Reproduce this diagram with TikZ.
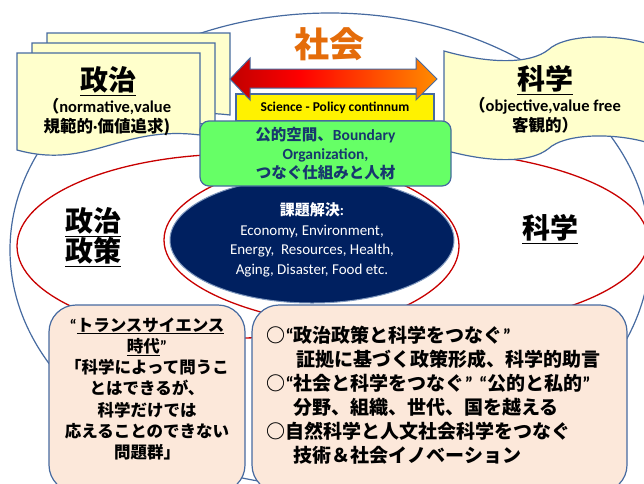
\documentclass[tikz,border=0pt]{standalone}
\usepackage{fontspec}
\setmainfont{Carlito}
\newfontfamily\jp{Noto Sans CJK JP}
\usetikzlibrary{positioning,shapes.geometric}
\definecolor{lineblue}{RGB}{70,106,160}
\definecolor{venred}{RGB}{200,0,0}
\definecolor{docyellow}{RGB}{255,255,204}
\definecolor{peach}{RGB}{252,232,218}
\definecolor{boxgreen}{RGB}{102,255,102}
\definecolor{navy}{RGB}{0,32,96}
\definecolor{textnavy}{RGB}{23,55,110}
\definecolor{orangetxt}{RGB}{228,108,10}
\definecolor{arrowdark}{RGB}{100,0,0}
\pgfdeclarehorizontalshading{arrowgrad}{100bp}{color(0bp)=(arrowdark); color(42bp)=(red); color(72bp)=(orange); color(100bp)=(yellow)}
\newcommand\qo{{\rmfamily “}}
\newcommand\qc{{\rmfamily ”}}

\begin{document}
\begin{tikzpicture}[x=1pt,y=-1pt,
  outline/.style={draw=lineblue,line width=1.2pt},
  venn/.style={draw=venred,line width=1.3pt},
  docpage/.style={outline,fill=docyellow},
  infobox/.style={outline,fill=peach,rounded corners=27pt,minimum width=#1,minimum height=187pt},
  jpbig/.style={font=\jp\bfseries\fontsize{28}{30}\selectfont,align=center}]
\useasboundingbox (0,0) rectangle (644,483);
\clip (0,0) rectangle (644,483);

\draw[outline] (330,250) ellipse [x radius=320, y radius=237];
\draw[venn] (238,246) ellipse [x radius=221, y radius=92];
\draw[venn] (406,240) ellipse [x radius=242, y radius=90];

\foreach \dx/\dy in {30/-20,15/-10,0/0}
  \draw[docpage,shift={(\dx,\dy)}] (17,53) -- (200,53) -- (200,135) .. controls (120,125) and (90,170) .. (17,150) -- cycle;
\draw[docpage] (444,51) .. controls (490,64) and (530,64) .. (548,50) .. controls (566,33) and (620,34) .. (652,45)
  -- (652,144) .. controls (620,133) and (566,132) .. (548,149) .. controls (530,163) and (490,163) .. (444,150) -- cycle;

\node[outline,fill=yellow,minimum width=198pt,minimum height=27pt,inner sep=0,font=\bfseries\fontsize{13.5}{15}\selectfont] (continuum) at (335,107.5) {Science - Policy continnum};
\shadedraw[shading=arrowgrad,draw=lineblue,line width=1pt] (230,79) -- (250,58) -- (250,69) -- (416,69) -- (416,58) -- (437,79) -- (416,100) -- (416,88) -- (250,88) -- (250,100) -- cycle;
\node[text=orangetxt,font=\jp\bfseries\fontsize{35}{38}\selectfont] (society) at (329,44) {社会};

\node[ellipse,fill=navy,draw=lineblue!70,line width=1pt,minimum width=284pt,minimum height=126pt,inner sep=0,text=white,align=center,font=\fontsize{15}{19.5}\selectfont] (issues) at (312,240)
  {{\jp\bfseries 課題解決}\textbf{:}\\Economy, Environment,\\Energy,~~Resources, Health,\\Aging, Disaster, Food etc.};
\node[outline,fill=boxgreen,rounded corners=9pt,minimum width=251pt,minimum height=65pt] (bridge) at (325.5,153.5) {};
\node[text=textnavy,align=center,font=\bfseries\fontsize{15.5}{19}\selectfont] (bridgetext) at (bridge) {{\jp 公的空間、}Boundary\\Organization,\\{\jp つなぐ仕組みと人材}};

\node[jpbig] (politics) at (108,81) {\underline{政治}};
\node[align=center,font=\bfseries\fontsize{16.5}{20}\selectfont] (normative) at (107,117) {{\jp （}normative,value\\{\jp 規範的}{\rmfamily ·}{\jp 価値追求)}};
\node[jpbig] (science) at (545,80) {\underline{科学}};
\node[align=center,font=\bfseries\fontsize{16.5}{20}\selectfont] (objective) at (545,115) {{\jp （}objective,value free\\{\jp 客観的）}};

\node[jpbig] (policy) at (93,237) {\underline{政治}\\\underline{政策}};
\node[jpbig] (sciencevenn) at (550,229) {\underline{科学}};

\node[infobox=196pt] (transbox) at (147,398.5) {};
\node[align=center,font=\jp\bfseries\fontsize{16.5}{21.3}\selectfont] (transtext) at (147,389)
  {\qo\underline{トランスサイエンス}\\\underline{時代}\qc\\「科学によって問うこ\\とはできるが、\\科学だけでは\\応えることのできない\\問題群」};
\node[infobox=375pt] (linkbox) at (439.5,398.5) {};
\node[anchor=west,align=left,font=\jp\bfseries\fontsize{19}{24}\selectfont] (linktext) at (263,395)
  {○\qo 政治政策と科学をつなぐ\qc\\
   \hspace*{30pt}証拠に基づく政策形成、科学的助言\\
   ○\qo 社会と科学をつなぐ\qc\hspace{6pt}\qo 公的と私的\qc\\
   \hspace*{27pt}分野、組織、世代、国を越える\\
   ○自然科学と人文社会科学をつなぐ\\
   \hspace*{27pt}技術＆社会イノベーション};
\end{tikzpicture}
\end{document}
